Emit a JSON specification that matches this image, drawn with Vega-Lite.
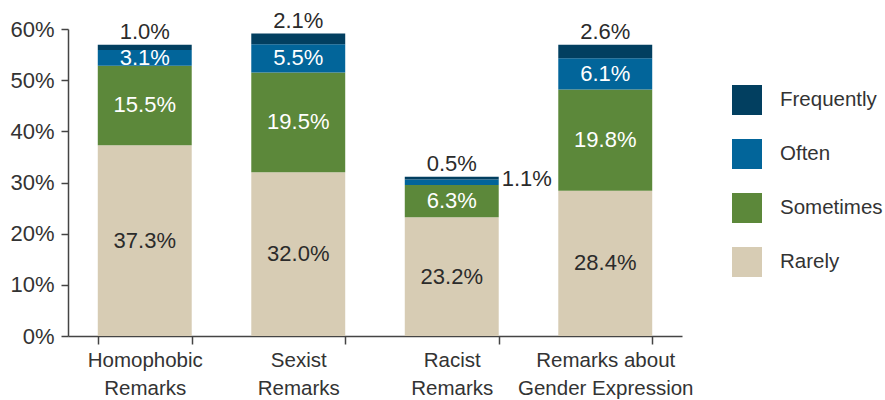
{
  "$schema": "https://vega.github.io/schema/vega-lite/v6.json",
  "width": 614,
  "height": 307,
  "autosize": "none",
  "padding": {"left": 68, "top": 29, "right": 203, "bottom": 64},
  "background": "white",
  "config": {"view": {"stroke": null}, "font": "Liberation Sans"},
  "data": {
    "values": [
      {"category": "Homophobic Remarks", "level": "Rarely", "rank": 1, "value": 0.373},
      {"category": "Homophobic Remarks", "level": "Sometimes", "rank": 2, "value": 0.155},
      {"category": "Homophobic Remarks", "level": "Often", "rank": 3, "value": 0.031},
      {"category": "Homophobic Remarks", "level": "Frequently", "rank": 4, "value": 0.010},
      {"category": "Sexist Remarks", "level": "Rarely", "rank": 1, "value": 0.320},
      {"category": "Sexist Remarks", "level": "Sometimes", "rank": 2, "value": 0.195},
      {"category": "Sexist Remarks", "level": "Often", "rank": 3, "value": 0.055},
      {"category": "Sexist Remarks", "level": "Frequently", "rank": 4, "value": 0.021},
      {"category": "Racist Remarks", "level": "Rarely", "rank": 1, "value": 0.232},
      {"category": "Racist Remarks", "level": "Sometimes", "rank": 2, "value": 0.063},
      {"category": "Racist Remarks", "level": "Often", "rank": 3, "value": 0.011},
      {"category": "Racist Remarks", "level": "Frequently", "rank": 4, "value": 0.005},
      {"category": "Remarks about Gender Expression", "level": "Rarely", "rank": 1, "value": 0.284},
      {"category": "Remarks about Gender Expression", "level": "Sometimes", "rank": 2, "value": 0.198},
      {"category": "Remarks about Gender Expression", "level": "Often", "rank": 3, "value": 0.061},
      {"category": "Remarks about Gender Expression", "level": "Frequently", "rank": 4, "value": 0.026}
    ]
  },
  "encoding": {
    "x": {
      "field": "category",
      "type": "nominal",
      "sort": ["Homophobic Remarks", "Sexist Remarks", "Racist Remarks", "Remarks about Gender Expression"],
      "scale": {"paddingInner": 0.388, "paddingOuter": 0.194},
      "axis": {
        "title": null,
        "labelAngle": 0,
        "tickBand": "extent",
        "tickSize": 8,
        "tickWidth": 1.5,
        "domainWidth": 1.5,
        "domainColor": "#444444",
        "tickColor": "#444444",
        "labelColor": "#333333",
        "labelFontSize": 20.5,
        "labelPadding": 6,
        "labelLineHeight": 28,
        "labelExpr": "datum.label === 'Remarks about Gender Expression' ? ['Remarks about', 'Gender Expression'] : split(datum.label, ' ')"
      }
    }
  },
  "layer": [
    {
      "mark": {"type": "bar"},
      "encoding": {
        "y": {
          "field": "value",
          "type": "quantitative",
          "stack": "zero",
          "scale": {"domain": [0, 0.6]},
          "axis": {
            "title": null,
            "format": ".0%",
            "values": [0, 0.1, 0.2, 0.3, 0.4, 0.5, 0.6],
            "grid": false,
            "tickSize": 7,
            "tickWidth": 1.5,
            "domainWidth": 1.5,
            "domainColor": "#444444",
            "tickColor": "#444444",
            "labelColor": "#333333",
            "labelFontSize": 22,
            "labelPadding": 7
          }
        },
        "color": {
          "field": "level",
          "type": "nominal",
          "scale": {
            "domain": ["Frequently", "Often", "Sometimes", "Rarely"],
            "range": ["#023f60", "#02659a", "#5c883a", "#d7ccb4"]
          },
          "legend": {
            "orient": "none",
            "legendX": 664,
            "legendY": 56,
            "title": null,
            "padding": 0,
            "symbolType": "square",
            "symbolSize": 900,
            "symbolStrokeWidth": 0,
            "symbolOpacity": 1,
            "labelFontSize": 20.5,
            "labelColor": "#333333",
            "labelOffset": 18,
            "rowPadding": 24
          }
        },
        "order": {"field": "rank", "type": "quantitative"}
      }
    },
    {
      "mark": {"type": "text", "fontSize": 22, "baseline": "middle"},
      "encoding": {
        "y": {"field": "value", "type": "quantitative", "stack": "zero", "bandPosition": 0.5, "title": null},
        "detail": {"field": "level", "type": "nominal"},
        "order": {"field": "rank", "type": "quantitative"},
        "text": {
          "condition": {
            "test": "datum.level !== 'Frequently' && !(datum.level === 'Often' && datum.category === 'Racist Remarks')",
            "field": "value",
            "type": "quantitative",
            "format": ".1%"
          },
          "value": ""
        },
        "color": {"condition": {"test": "datum.level === 'Rarely'", "value": "#2b2b2b"}, "value": "#ffffff"}
      }
    },
    {
      "mark": {"type": "text", "fontSize": 22, "baseline": "alphabetic", "dy": -6, "color": "#2b2b2b"},
      "encoding": {
        "y": {"field": "value", "type": "quantitative", "stack": "zero", "title": null},
        "detail": {"field": "level", "type": "nominal"},
        "order": {"field": "rank", "type": "quantitative"},
        "text": {
          "condition": {"test": "datum.level === 'Frequently'", "field": "value", "type": "quantitative", "format": ".1%"},
          "value": ""
        }
      }
    },
    {
      "mark": {"type": "text", "fontSize": 22, "baseline": "middle", "align": "left", "dx": 50, "dy": -3, "color": "#2b2b2b"},
      "encoding": {
        "y": {"field": "value", "type": "quantitative", "stack": "zero", "bandPosition": 0.5, "title": null},
        "detail": {"field": "level", "type": "nominal"},
        "order": {"field": "rank", "type": "quantitative"},
        "text": {
          "condition": {"test": "datum.level === 'Often' && datum.category === 'Racist Remarks'", "field": "value", "type": "quantitative", "format": ".1%"},
          "value": ""
        }
      }
    }
  ]
}
